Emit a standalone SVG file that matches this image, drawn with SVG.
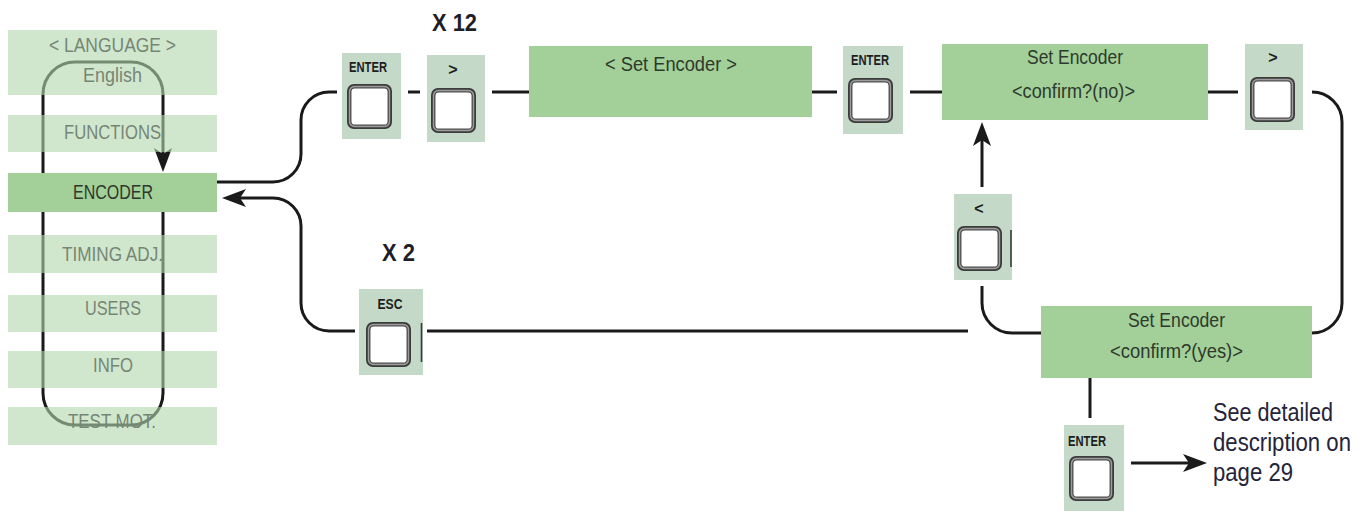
<svg xmlns="http://www.w3.org/2000/svg" width="1368" height="511" viewBox="0 0 1368 511">
<style>
text{font-family:"Liberation Sans Narrow","Liberation Sans",Arial,sans-serif;}
.menu{fill:#b3d7ab;fill-opacity:0.6}
.mt{font-size:20px;fill:#768676;text-anchor:middle}
.box{fill:#a3cf98}
.bt{font-size:21px;fill:#2d3a2d;text-anchor:middle}
.pan{fill:#c4d9c8}
.bl{font-size:14px;font-weight:bold;fill:#1e1e1e;text-anchor:middle}
.ar{font-size:16px;font-weight:bold;fill:#1e1e1e;text-anchor:middle}
.ln{fill:none;stroke:#1a1a1a;stroke-width:3}
.tick{stroke:#3a3a3a;stroke-width:1.6}
.big{font-size:24px;font-weight:bold;fill:#1e1e28;text-anchor:middle}
.note{font-size:25px;fill:#24243a}
</style>
<defs>
<marker id="ah" viewBox="0 0 24 18" refX="12" refY="9" markerWidth="24" markerHeight="18" markerUnits="userSpaceOnUse" orient="auto"><path d="M0,0 L24,9 L0,18 L6,9 Z" fill="#1a1a1a"/></marker>
<g id="key">
<rect x="0" y="0" width="45" height="45" rx="7" fill="#3c3c3c"/>
<rect x="1.8" y="1.8" width="41.4" height="41.4" rx="5.5" fill="#9c9c9c"/>
<rect x="3.8" y="3.8" width="37.4" height="37.4" rx="4" fill="#fff" stroke="#4a4a4a" stroke-width="1.3"/>
</g>
</defs>
<rect width="1368" height="511" fill="#fff"/>
<g id="connectors">
<path class="ln" d="M163,212 V393 A32,32 0 0 1 131,425 H75 A32,32 0 0 1 43,393 V94 A32,32 0 0 1 75,62 H131 A32,32 0 0 1 163,94 V160" marker-end="url(#ah)"/>
<path class="ln" d="M217,182 H273 A28,28 0 0 0 301,154 V120 A28,28 0 0 1 329,92 H337"/>
<path class="ln" d="M408,92 H420"/>
<path class="ln" d="M492,92 H529"/>
<path class="ln" d="M812,92 H837"/>
<path class="ln" d="M910,92 H942"/>
<path class="ln" d="M1208,92 H1238"/>
<path class="ln" d="M1312,92 A30,30 0 0 1 1342,122 V303 A30,30 0 0 1 1312,333"/>
<path class="ln" d="M982,187 V134" marker-end="url(#ah)"/>
<path class="ln" d="M982,286 V303 A30,30 0 0 0 1012,333 H1041"/>
<path class="ln" d="M968,331 H427"/>
<path class="ln" d="M355,331 H329 A28,28 0 0 1 301,303 V226 A28,28 0 0 0 273,198 H234" marker-end="url(#ah)"/>
<path class="ln" d="M1090,378 V418"/>
<path class="ln" d="M1131,463 H1195" marker-end="url(#ah)"/>
</g>
<g id="n-language"><rect class="menu" x="8" y="30" width="209" height="65"/><text class="mt" x="112.5" y="52" textLength="127" lengthAdjust="spacingAndGlyphs">&lt; LANGUAGE &gt;</text><text class="mt" x="112.5" y="82" textLength="59" lengthAdjust="spacingAndGlyphs">English</text></g>
<g id="n-functions"><rect class="menu" x="8" y="115" width="209" height="37"/><text class="mt" x="112.5" y="139" textLength="97" lengthAdjust="spacingAndGlyphs">FUNCTIONS</text></g>
<g id="n-encoder"><rect class="box" x="8" y="173" width="209" height="39"/><text class="mt" style="fill:#2d372d" x="113" y="199" textLength="80" lengthAdjust="spacingAndGlyphs">ENCODER</text></g>
<g id="n-timing"><rect class="menu" x="8" y="235" width="209" height="38"/><text class="mt" x="112.5" y="261" textLength="101" lengthAdjust="spacingAndGlyphs">TIMING ADJ.</text></g>
<g id="n-users"><rect class="menu" x="8" y="295" width="209" height="37"/><text class="mt" x="113" y="315" textLength="56" lengthAdjust="spacingAndGlyphs">USERS</text></g>
<g id="n-info"><rect class="menu" x="8" y="351" width="209" height="37"/><text class="mt" x="113" y="372" textLength="40" lengthAdjust="spacingAndGlyphs">INFO</text></g>
<g id="n-testmot"><rect class="menu" x="8" y="407" width="209" height="38"/><text class="mt" x="112" y="428" textLength="88" lengthAdjust="spacingAndGlyphs">TEST MOT.</text></g>
<g id="b-enter1"><rect class="pan" x="342" y="53" width="59" height="86"/><text class="bl" x="368" y="72" textLength="38" lengthAdjust="spacingAndGlyphs">ENTER</text><use href="#key" x="347" y="84"/></g>
<g id="lbl-x12"><text class="big" x="454.5" y="31" textLength="45" lengthAdjust="spacingAndGlyphs">X 12</text></g>
<g id="b-right1"><rect class="pan" x="427" y="55" width="58" height="87"/><text class="ar" x="453" y="75">&gt;</text><use href="#key" x="431" y="88"/></g>
<g id="n-set-encoder"><rect class="box" x="529" y="46" width="283" height="71"/><text class="bt" x="671" y="71" textLength="132" lengthAdjust="spacingAndGlyphs">&lt; Set Encoder &gt;</text></g>
<g id="b-enter2"><rect class="pan" x="843" y="46" width="60" height="88"/><text class="bl" x="870" y="65" textLength="38" lengthAdjust="spacingAndGlyphs">ENTER</text><use href="#key" x="848" y="78"/></g>
<g id="n-confirm-no"><rect class="box" x="942" y="44" width="266" height="76"/><text class="bt" x="1075" y="64" textLength="96" lengthAdjust="spacingAndGlyphs">Set Encoder</text><text class="bt" x="1073.5" y="98" textLength="123" lengthAdjust="spacingAndGlyphs">&lt;confirm?(no)&gt;</text></g>
<g id="b-right2"><rect class="pan" x="1245" y="44" width="58" height="86"/><text class="ar" x="1273" y="63">&gt;</text><use href="#key" x="1250" y="77"/></g>
<g id="b-left"><rect class="pan" x="954" y="194" width="58" height="86"/><text class="ar" x="979" y="214">&lt;</text><use href="#key" x="957" y="226"/><line class="tick" x1="1011" y1="230" x2="1011" y2="267"/></g>
<g id="lbl-x2"><text class="big" x="398.5" y="261" textLength="33" lengthAdjust="spacingAndGlyphs">X 2</text></g>
<g id="b-esc"><rect class="pan" x="359" y="289" width="64" height="86"/><text class="bl" x="390" y="309" textLength="25" lengthAdjust="spacingAndGlyphs">ESC</text><use href="#key" x="366" y="322"/><line class="tick" x1="421.5" y1="323" x2="421.5" y2="362"/></g>
<g id="n-confirm-yes"><rect class="box" x="1041" y="306" width="271" height="72"/><text class="bt" x="1176.5" y="327" textLength="97" lengthAdjust="spacingAndGlyphs">Set Encoder</text><text class="bt" x="1176.5" y="358" textLength="133" lengthAdjust="spacingAndGlyphs">&lt;confirm?(yes)&gt;</text></g>
<g id="b-enter3"><rect class="pan" x="1064" y="425" width="60" height="86"/><text class="bl" x="1087" y="446" textLength="38" lengthAdjust="spacingAndGlyphs">ENTER</text><use href="#key" x="1069" y="456"/></g>
<g id="note"><text class="note" x="1213" y="421" textLength="120" lengthAdjust="spacingAndGlyphs">See detailed</text><text class="note" x="1213" y="451" textLength="138" lengthAdjust="spacingAndGlyphs">description on</text><text class="note" x="1213" y="481" textLength="80" lengthAdjust="spacingAndGlyphs">page 29</text></g>
</svg>
